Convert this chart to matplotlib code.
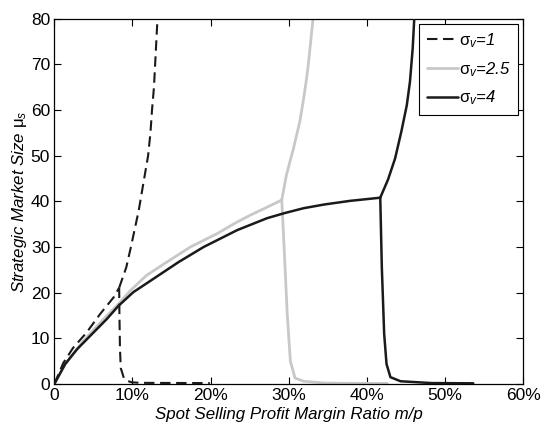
import matplotlib
matplotlib.use("Agg")
import matplotlib.pyplot as plt
from matplotlib.ticker import FixedLocator, FixedFormatter

plt.rcParams['font.family'] = ['Liberation Sans', 'DejaVu Sans']
plt.rcParams['mathtext.fontset'] = 'custom'
plt.rcParams['mathtext.rm'] = 'Liberation Sans'
plt.rcParams['mathtext.it'] = 'Liberation Sans:italic'

# sigma_v = 1 (dashed)
s1_low_x = [0, 1.15, 2.4, 4.1, 5.85, 7.6, 8.3]
s1_low_y = [0, 4.6, 7.9, 11.2, 15.3, 19.0, 21.1]
s1_up_x = [8.3, 9.2, 9.8, 10.3, 10.8, 11.2, 11.6, 12.0, 12.3, 12.5, 12.75, 12.9, 13.05, 13.2]
s1_up_y = [21.1, 25.5, 30, 34, 38, 42, 46, 50, 55, 60, 65, 70, 75, 80]
s1_dn_x = [8.3, 8.33, 8.4, 8.5, 8.9, 9.4, 9.9, 11.0, 19.9]
s1_dn_y = [21.1, 15.3, 7.9, 3.5, 1.3, 0.65, 0.37, 0.25, 0.2]

# sigma_v = 2.5 (light gray)
s2_low_x = [0, 1.4, 3.7, 6.3, 8.2, 9.7, 11.8, 14.4, 17.4, 20.8, 23.1, 25.1, 27.2, 29.1]
s2_low_y = [0, 4.3, 9.4, 14.2, 17.5, 20.4, 23.8, 26.7, 30.0, 32.9, 35.2, 37.0, 38.7, 40.3]
s2_up_x = [29.1, 29.7, 30.6, 31.4, 31.85, 32.2, 32.5, 32.8, 33.1]
s2_up_y = [40.3, 45.8, 51.6, 57.4, 62.0, 66.0, 70.0, 75.0, 80]
s2_dn_x = [29.1, 29.4, 29.8, 30.2, 30.8, 31.9, 34.5, 37.8, 42.6]
s2_dn_y = [40.3, 30, 15.3, 5.0, 1.3, 0.6, 0.22, 0.15, 0.12]

# sigma_v = 4 (black)
s3_low_x = [0, 1.4, 2.9, 5.0, 6.7, 8.2, 10.1, 12.3, 15.9, 19.1, 23.4, 27.2, 29.4, 31.9, 34.5, 37.8, 41.7]
s3_low_y = [0, 4.4, 7.6, 11.25, 14.2, 17.1, 20.1, 22.6, 26.7, 30.0, 33.7, 36.3, 37.4, 38.5, 39.3, 40.1, 40.8]
s3_up_x = [41.7, 42.1, 42.7, 43.6, 44.4, 45.1, 45.5, 45.85, 46.05]
s3_up_y = [40.8, 42.4, 44.8, 49.4, 55.3, 61.1, 66.2, 73.5, 80]
s3_dn_x = [41.7, 41.9, 42.2, 42.5, 43.0, 44.3, 48.3, 53.6]
s3_dn_y = [40.8, 25.6, 11.0, 4.4, 1.5, 0.6, 0.2, 0.15]

xticks = [0, 10, 20, 30, 40, 50, 60]
xticklabels = ['0', '10%', '20%', '30%', '40%', '50%', '60%']
yticks = [0, 10, 20, 30, 40, 50, 60, 70, 80]

W, H = 542, 423
fig = plt.figure(figsize=(W / 100, H / 100), dpi=100)
L, R, T, B = 54.3, 523.3, 18.7, 384.0
ax = fig.add_axes([L / W, 1 - B / H, (R - L) / W, (B - T) / H])

blk = '#1a1a1a'
gry = '#c8c8c8'
common = dict(solid_joinstyle='round', solid_capstyle='round')
ds = dict(color=blk, lw=1.5, ls=(0, (5, 2.7)), dash_joinstyle='round')
ax.plot(s2_low_x, s2_low_y, color=gry, lw=2, label=r'$\mathrm{\sigma}_{v}$=2.5', zorder=2, **common)
ax.plot(s2_up_x, s2_up_y, color=gry, lw=2, zorder=2, **common)
ax.plot(s2_dn_x, s2_dn_y, color=gry, lw=2, zorder=2, **common)
ax.plot(s3_low_x, s3_low_y, color=blk, lw=1.8, label=r'$\mathrm{\sigma}_{v}$=4', zorder=3, **common)
ax.plot(s3_up_x, s3_up_y, color=blk, lw=1.8, zorder=3, **common)
ax.plot(s3_dn_x, s3_dn_y, color=blk, lw=1.8, zorder=3, **common)
ax.plot(s1_low_x, s1_low_y, label=r'$\mathrm{\sigma}_{v}$=1', zorder=4, **ds)
ax.plot(s1_up_x, s1_up_y, zorder=4, **ds)
ax.plot(s1_dn_x, s1_dn_y, zorder=4, **ds)

ax.set_xlim(0, 60)
ax.set_ylim(0, 80)
ax.xaxis.set_major_locator(FixedLocator(xticks))
ax.xaxis.set_major_formatter(FixedFormatter(xticklabels))
ax.set_yticks(yticks)
ax.tick_params(direction='in', top=True, right=True, labelsize=12.5, length=5, width=0.8, pad=3)
for sp in ax.spines.values():
    sp.set_linewidth(0.9)

ax.set_xlabel('Spot Selling Profit Margin Ratio m/p', fontsize=12.2, style='italic', labelpad=3)
ax.set_ylabel(r'Strategic Market Size $\mathrm{\mu}_{s}$', fontsize=12.2, style='italic', labelpad=1)

h, l = ax.get_legend_handles_labels()
order = [2, 0, 1]
leg = ax.legend([h[i] for i in order], [l[i] for i in order], loc='upper right',
                prop={'size': 12, 'style': 'italic'}, handlelength=1.85, handletextpad=0.1,
                labelspacing=0.6, borderaxespad=0.3, borderpad=0.45, fancybox=False,
                edgecolor='black', framealpha=1)
leg.get_frame().set_linewidth(0.8)

fig.savefig('out.png', dpi=100)
